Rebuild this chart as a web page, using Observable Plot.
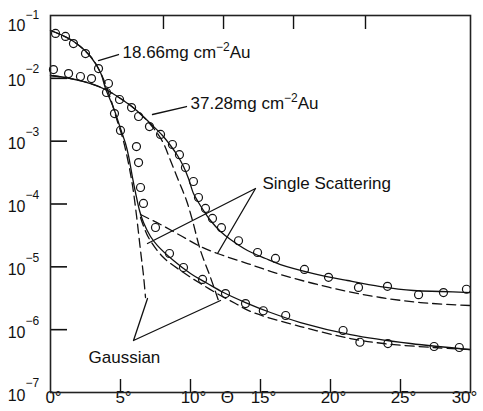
<!DOCTYPE html>
<html><head><meta charset="utf-8">
<script src="https://cdn.jsdelivr.net/npm/d3@7"></script>
<script src="https://cdn.jsdelivr.net/npm/@observablehq/plot@0.6"></script>
<style>body{margin:0;background:#fff}</style>
</head><body><div id="chart"></div>
<script>
// ---- axis ticks / labels ----
const xTicks = [0, 5, 10, 15, 20, 25, 30];
const xTickLabels = ["0°", "5°", "10°", "15°", "20°", "25°", "30°"];
const xInnerTicks = [5, 10, 15, 20, 25];
const xTopTicks = [8.07, 12.36, 17.36, 22.5];
const yDecades = [1e-1, 1e-2, 1e-3, 1e-4, 1e-5, 1e-6, 1e-7];
const yExponents = ["−1", "−2", "−3", "−4", "−5", "−6", "−7"];
const yInnerTicks = [1e-2, 1e-3, 1e-4, 1e-5, 1e-6];
const xAxisSymbol = [{x: 12.64, text: "Θ"}];

// ---- measured points (angle in degrees, intensity) ----
const pts1866 = [[0.36,0.0518],[1.07,0.0464],[1.64,0.0358],[2.5,0.0248],[3.43,0.0143],[4.14,0.00828],[4.57,0.00275],[5.0,0.00148],[6.14,8.2e-4],[6.29,4.57e-4],[6.43,1.83e-4],[6.64,1.02e-4],[7.5,4.23e-5],[8.5,1.63e-5],[9.5,9.75e-6],[10.86,6.3e-6],[12.5,3.76e-6],[13.93,2.6e-6],[15.2,2.0e-6],[16.8,1.68e-6],[20.9,9.7e-7],[22.1,6.3e-7],[24.1,6.0e-7],[27.4,5.4e-7],[29.2,5.2e-7]];
const pts3728 = [[0.21,0.0138],[1.29,0.0119],[2.14,0.0107],[2.93,0.00993],[4.0,0.00595],[4.93,0.0046],[5.79,0.00343],[6.29,0.00247],[7.07,0.00171],[7.86,0.00128],[8.71,8.85e-4],[9.21,6.1e-4],[9.64,3.81e-4],[10.21,2.28e-4],[10.57,1.27e-4],[11.07,8.5e-5],[11.57,5.9e-5],[12.21,4.2e-5],[13.43,2.6e-5],[14.79,1.69e-5],[16.07,1.36e-5],[18.14,9.1e-6],[19.86,6.8e-6],[22.0,4.7e-6],[24.07,4.9e-6],[26.29,3.6e-6],[28.07,3.9e-6],[29.71,4.4e-6]];

// ---- theory curves ----
const total1866 = [[0,0.0577],[0.714,0.0498],[1.429,0.0415],[2.143,0.0321],[2.857,0.02226],[3.571,0.01238],[3.929,0.00689],[4.286,0.004437],[4.571,0.003076],[4.857,0.001982],[5.143,0.001276],[5.357,9.18e-4],[5.571,5.91e-4],[5.857,2.64e-4],[6.071,1.524e-4],[6.357,7.88e-5],[6.643,5.07e-5],[7.143,3.04e-5],[7.643,2.18e-5],[8.786,1.26e-5],[10.0,7.83e-6],[11.214,5.43e-6],[12.357,3.9e-6],[13.929,2.7e-6],[15.714,1.875e-6],[17.857,1.3e-6],[21.429,8.37e-7],[25.714,6.02e-7],[30,4.83e-7]];
const total3728 = [[0,0.01109],[1.429,0.00994],[2.857,0.00827],[3.929,0.00664],[5.0,0.004775],[6.071,0.00319],[7.143,0.00191],[8.0,0.00123],[8.571,8.53e-4],[9.071,5.91e-4],[9.5,3.95e-4],[9.857,2.54e-4],[10.214,1.469e-4],[10.571,1.056e-4],[10.929,7.88e-5],[11.429,5.46e-5],[12.143,3.65e-5],[12.857,2.72e-5],[14.071,1.818e-5],[15.357,1.356e-5],[16.429,1.088e-5],[18.786,7.83e-6],[21.214,6.06e-6],[23.571,4.86e-6],[25.929,4.2e-6],[27.857,4.05e-6],[30,3.9e-6]];
const gauss1866 = [[0,0.0577],[1.429,0.0415],[2.857,0.02226],[3.571,0.01238],[4.286,0.004775],[4.714,0.002295],[5.143,0.001143],[5.5,5.3e-4],[5.857,1.97e-4],[6.143,6.56e-5],[6.429,1.818e-5],[6.643,7.27e-6],[6.786,3.25e-6]];
const gauss3728 = [[0,0.01109],[1.429,0.00994],[2.857,0.00827],[3.929,0.00664],[5.0,0.004775],[6.071,0.00319],[7.143,0.001842],[8.0,9.88e-4],[8.571,4.92e-4],[9.143,2.365e-4],[9.714,1.136e-4],[10.143,5.46e-5],[10.714,1.818e-5],[11.429,6.76e-6],[12.0,2.91e-6]];
const single3728 = [[6.429,6.8e-5],[7.857,4.72e-5],[9.286,3.15e-5],[10.714,2.105e-5],[11.929,1.63e-5],[14.071,1.129e-5],[16.429,7.55e-6],[18.786,5.43e-6],[21.214,4.05e-6],[23.571,3.25e-6],[26.429,2.7e-6],[30,2.42e-6]];
const single1866 = [[6.429,6.09e-5],[7.0,2.93e-5],[8.071,1.407e-5],[9.5,8.12e-6],[10.714,5.43e-6],[12.143,3.5e-6],[13.214,2.61e-6],[14.286,1.945e-6],[17.857,1.122e-6],[21.429,7.23e-7],[23.786,6.02e-7],[27.357,5.2e-7],[30,4.83e-7]];

// ---- annotations ----
const labelTexts = ["18.66mg cm{−2}Au", "37.28mg cm{−2}Au", "Single Scattering", "Gaussian"];
const labelX = [5.143, 10.0, 15.143, 2.714];
const labelY = [0.02577, 0.003975, 2.12e-4, 3.6e-7];
const leaderLines = [
  {id: "a", pts: [[3.429,0.01922],[4.857,0.02394]]},
  {id: "b", pts: [[7.286,0.002657],[9.714,0.003561]]},
  {id: "c", pts: [[6.929,2.35e-5],[14.643,1.764e-4],[11.929,1.63e-5]]},
  {id: "d", pts: [[6.929,3.13e-6],[5.929,6.72e-7],[12.143,2.91e-6]]}
];

const rows = (pairs, id) => pairs.map(([x, y]) => ({x, y, id}));
const solid = [...rows(total1866, "t1"), ...rows(total3728, "t2")];
const dashed = [...rows(gauss1866, "g1"), ...rows(gauss3728, "g2"), ...rows(single3728, "s2"), ...rows(single1866, "s1")];
const points = [...rows(pts1866, "p1"), ...rows(pts3728, "p2")];
const leaders = leaderLines.flatMap(l => rows(l.pts, l.id));
const labels = labelTexts.map((t, i) => ({text: t, x: labelX[i], y: labelY[i]}));
const yLab = yDecades.map((d, i) => ({y: d, exp: yExponents[i], top: i === 0}));
const xLab = xTicks.map((d, i) => ({x: d, text: xTickLabels[i], last: i === xTicks.length - 1}));

const ink = "#111";
const chart = Plot.plot({
  width: 483, height: 411,
  marginLeft: 50, marginRight: 13, marginTop: 15, marginBottom: 19,
  style: {fontFamily: "'Liberation Sans', Arial, sans-serif", fontSize: "17px", background: "white", color: "black"},
  x: {domain: [0, 30], axis: null},
  y: {type: "log", domain: [1e-7, 1e-1], axis: null},
  marks: [
    Plot.tickY(yInnerTicks, {y: d => d, insetRight: 403, stroke: ink, strokeWidth: 1.6}),
    Plot.tickX(xInnerTicks, {x: d => d, insetTop: 364, stroke: ink, strokeWidth: 1.4}),
    Plot.tickX(xTopTicks, {x: d => d, insetBottom: 363, stroke: ink, strokeWidth: 1.4}),
    Plot.line(solid, {x: "x", y: "y", z: "id", stroke: ink, strokeWidth: 1.3, curve: "catmull-rom"}),
    Plot.line(dashed, {x: "x", y: "y", z: "id", stroke: ink, strokeWidth: 1.3, strokeDasharray: "9,5", curve: "catmull-rom"}),
    Plot.line(leaders, {x: "x", y: "y", z: "id", stroke: ink, strokeWidth: 1.3}),
    Plot.dot(points, {x: "x", y: "y", r: 4, stroke: ink, strokeWidth: 1.2, fill: "none"}),
    Plot.text(labels, {x: "x", y: "y", text: "text", textAnchor: "start", fontSize: 17, fill: ink}),
    // y tick labels 10^n
    Plot.text(yLab, {y: "y", text: () => "10", frameAnchor: "left", textAnchor: "end", dx: -25, dy: 3, fontSize: 16, fill: ink, filter: d => !d.top}),
    Plot.text(yLab, {y: "y", text: () => "10", frameAnchor: "left", textAnchor: "end", dx: -25, dy: 10, fontSize: 16, fill: ink, filter: d => d.top}),
    Plot.text(yLab, {y: "y", text: "exp", frameAnchor: "left", textAnchor: "start", dx: -25, dy: -9, fontSize: 12, fill: ink, filter: d => !d.top}),
    Plot.text(yLab, {y: "y", text: "exp", frameAnchor: "left", textAnchor: "start", dx: -25, dy: 0, fontSize: 12, fill: ink, filter: d => d.top}),
    // x tick labels
    Plot.text(xLab, {x: "x", text: "text", frameAnchor: "bottom", dy: 10, dx: 3, fontSize: 17, fill: ink, filter: d => !d.last}),
    Plot.text(xLab, {x: "x", text: "text", frameAnchor: "bottom", dy: 10, dx: -6, fontSize: 17, fill: ink, filter: d => d.last}),
    Plot.text(xAxisSymbol, {x: "x", text: "text", frameAnchor: "bottom", dy: 10, fontSize: 17, fill: ink}),
    Plot.frame({stroke: "#222", strokeWidth: 1.6})
  ]
});

// superscripts written as {..}
d3.select(chart).selectAll("text").each(function() {
  const s = this.textContent;
  if (!s.includes("{")) return;
  const parts = s.split(/[{}]/);
  this.textContent = "";
  const sel = d3.select(this);
  parts.forEach((p, i) => {
    const t = sel.append("tspan").text(p);
    if (i % 2 === 1) t.attr("dy", -7).attr("font-size", 12);
    else if (i > 0) t.attr("dy", 7);
  });
});
document.getElementById("chart").appendChild(chart);
</script></body></html>
